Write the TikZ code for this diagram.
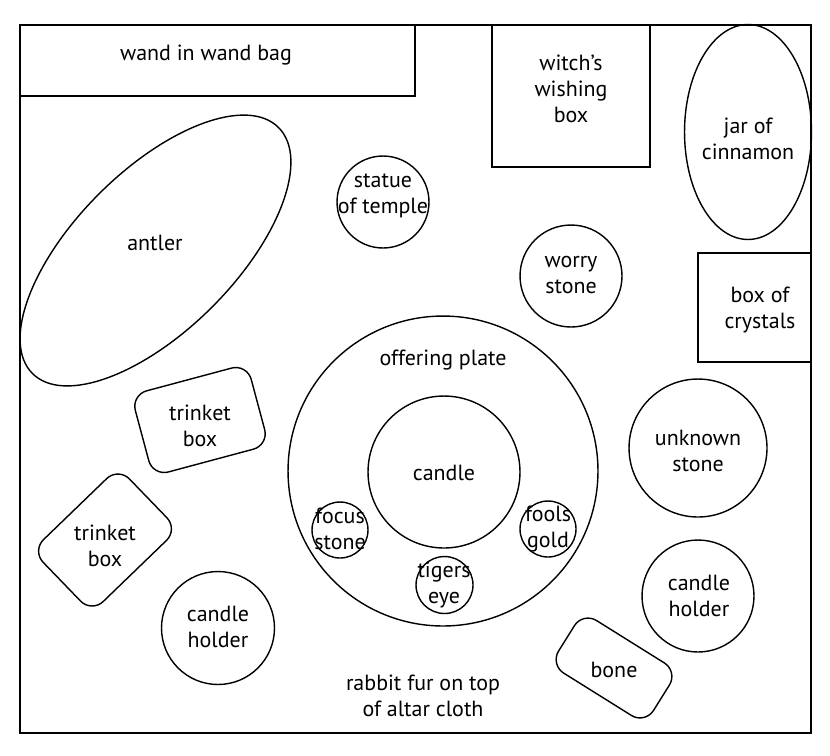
\documentclass[tikz,border=0pt]{standalone}
\usepackage{fontspec}
\setmainfont{PT Sans}
\usepackage{tikz}
\usetikzlibrary{shapes.geometric}

\begin{document}
\begin{tikzpicture}[
  x=0.02cm, y=-0.02cm,
  thing/.style={draw, line width=0.8pt, inner sep=0pt},
  box/.style={thing, rectangle},
  rbox/.style={thing, rectangle, rounded corners=0.32cm},
  stone/.style={thing, circle},
  oval/.style={thing, ellipse},
  lbl/.style={align=center, inner sep=0pt, font=\fontsize{12.5}{14.8}\selectfont}
]
  \useasboundingbox (0,0) rectangle (830,755);

  % nappe de l'autel
  \node[thing, rectangle, line width=1pt, minimum width=15.82cm, minimum height=14.16cm] (cloth) at (415.5,379) {};
  \node[lbl] (cloth-l) at (423,696) {rabbit fur on top\\of altar cloth};

  % Rangée du haut
  \node[box, minimum width=7.9cm, minimum height=1.42cm] (wand) at (217.5,60.5) {};
  \node[lbl] (wand-l) at (206,55) {wand in wand bag};
  \node[box, minimum width=3.16cm, minimum height=2.84cm] (wish) at (571,96) {};
  \node[lbl] (wish-l) at (571,89) {witch’s\\wishing\\box};
  \node[oval, minimum width=2.54cm, minimum height=4.3cm] (jar) at (748,132) {};
  \node[lbl] (jar-l) at (748,139) {jar of\\cinnamon};

  % Côté gauche
  \node[oval, minimum width=6.96cm, minimum height=3.2cm, rotate=45] (antler) at (155.5,250.5) {};
  \node[lbl] (antler-l) at (155,243) {antler};
  \node[rbox, minimum width=2.4cm, minimum height=1.68cm, rotate=15] (trinket1) at (200,420) {};
  \node[lbl] (trinket1-l) at (200,426) {trinket\\box};
  \node[rbox, minimum width=2.4cm, minimum height=1.72cm, rotate=44] (trinket2) at (105,540) {};
  \node[lbl] (trinket2-l) at (105,546) {trinket\\box};
  \node[stone, minimum size=2.26cm] (holder1) at (218,628) {};
  \node[lbl] (holder1-l) at (218,627) {candle\\holder};

  % Milieu
  \node[stone, minimum size=1.84cm] (statue) at (383,202) {};
  \node[lbl] (statue-l) at (383,196) {statue\\of temple};
  \node[stone, minimum size=2.04cm] (worry) at (571,276) {};
  \node[lbl] (worry-l) at (571,275) {worry\\stone};

  % Plateau d'offrande
  \node[stone, minimum size=6.2cm] (plate) at (443,471) {};
  \node[lbl] (plate-l) at (443,360) {offering plate};
  \node[stone, minimum size=3.04cm] (candle) at (444,472) {};
  \node[lbl] (candle-l) at (444,473) {candle};
  \node[stone, minimum size=1.12cm] (focus) at (340,530) {};
  \node[lbl] (focus-l) at (340,529) {focus\\stone};
  \node[stone, minimum size=1.12cm] (fools) at (548,529) {};
  \node[lbl] (fools-l) at (548,529) {fools\\gold};
  \node[stone, minimum size=1.14cm] (tigers) at (444.5,585) {};
  \node[lbl] (tigers-l) at (444,585) {tigers\\eye};

  % Côté droit
  \node[box, minimum width=2.26cm, minimum height=2.18cm] (crystals) at (754.5,307.5) {};
  \node[lbl] (crystals-l) at (760,310) {box of\\crystals};
  \node[stone, minimum size=2.76cm] (unknown) at (698,448) {};
  \node[lbl] (unknown-l) at (698,451) {unknown\\stone};
  \node[stone, minimum size=2.24cm] (holder2) at (698,596) {};
  \node[lbl] (holder2-l) at (699,596) {candle\\holder};
  \node[rbox, minimum width=2.24cm, minimum height=1.24cm, rotate=-32] (bone) at (614,668) {};
  \node[lbl] (bone-l) at (614,670) {bone};

\end{tikzpicture}
\end{document}
